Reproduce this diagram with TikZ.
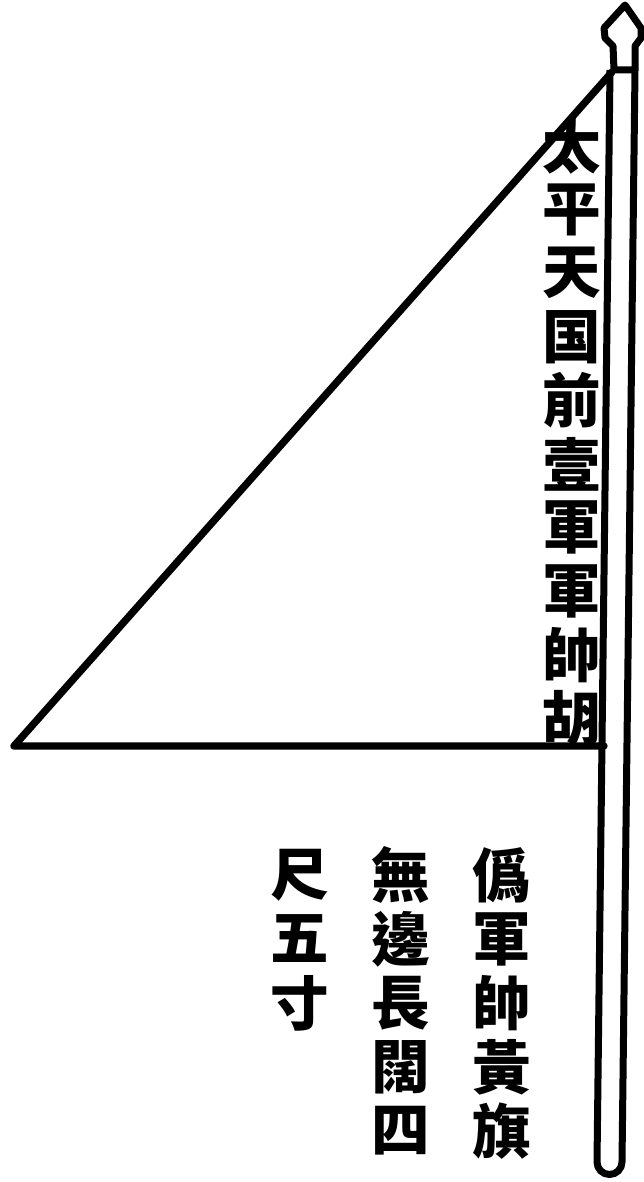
\documentclass[tikz,border=0pt]{standalone}
\usepackage{fontspec}
\usepackage{tikz}
\usetikzlibrary{positioning}
\newfontfamily\cjk{Noto Sans CJK TC}
\tikzset{
  inkline/.style={line width=2.2mm, line join=round, line cap=round},
  poleline/.style={line width=2.1mm, line join=round},
  glyph/.style={inner sep=0pt, font=\cjk\bfseries\fontsize{50}{50}\selectfont}
}

\begin{document}
\begin{tikzpicture}[x=0.03cm, y=-0.03cm]
    \useasboundingbox (0,0) rectangle (643,1182);
    % flag
    \draw[inkline] (612,72) -- (14,746) -- (604,746);
    % pole with rounded foot
    \draw[poleline] (610,70) -- (597,1162) arc (180:0:12.5) -- (635,70);
    % finial
    \draw[poleline, fill=white] (625,5) -- (604,28) -- (605,38) -- (613,46) -- (614,70)
      -- (635,70) -- (635,46) -- (641,38) -- (641,28) -- cycle;
    % inscription on the flag
    \foreach \c [count=\i] in {太,平,天,国,前,壹,軍,軍,帥,胡}
      \node[glyph] (flag\i) at (572,{146+63.6*(\i-1)}) {\c};
    % note below the flag
    \foreach \c [count=\i] in {僞,軍,帥,黃,旗}
      \node[glyph] (noteA\i) at (502,{875+64*(\i-1)}) {\c};
    \foreach \c [count=\i] in {無,邊,長,闊,四}
      \node[glyph] (noteB\i) at (401,{875+64*(\i-1)}) {\c};
    \foreach \c [count=\i] in {尺,五,寸}
      \node[glyph] (noteC\i) at (300,{875+64*(\i-1)}) {\c};
\end{tikzpicture}
\end{document}
